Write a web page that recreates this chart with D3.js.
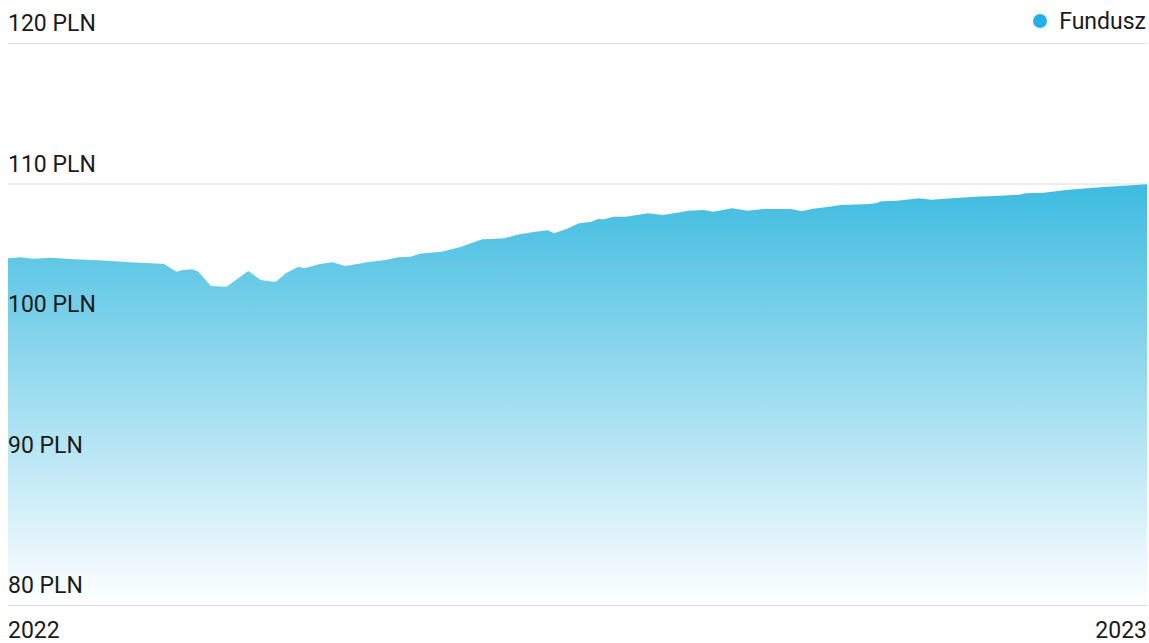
<!DOCTYPE html>
<html>
<head>
<meta charset="utf-8">
<script src="https://cdn.jsdelivr.net/npm/d3@7"></script>
<style>
  html, body { margin: 0; padding: 0; background: #fff; }
  svg { display: block; }
  text { font-family: Roboto, "Noto Sans", sans-serif; fill: #1a1a1a; }
</style>
</head>
<body>
<svg id="chart" width="1149" height="643"></svg>
<script>
// Day offsets from 2022-01-01 and fund unit values (PLN)
const days = [0, 4, 8, 14, 21, 29, 39, 49, 50, 54, 56, 59, 61, 65, 70, 77, 81, 85, 86, 89,
  93, 95, 100, 104, 108, 112, 115, 121, 125, 129, 132, 135, 139, 145, 152, 155, 159, 164, 169, 173,
  175, 179, 183, 187, 189, 191, 194, 198, 205, 210, 218, 223, 226, 232, 237, 242, 251, 254, 255, 258,
  262, 267, 276, 278, 280, 285, 292, 296, 300, 310, 318, 324, 326, 332, 339, 350, 365];
const values = [104.68, 104.75, 104.65, 104.72, 104.60, 104.53, 104.39, 104.29, 104.27, 103.72,
  103.84, 103.89, 103.72, 102.70, 102.65, 103.77, 103.13, 103.01, 103.03, 103.61,
  104.08, 103.96, 104.27, 104.39, 104.13, 104.27, 104.39, 104.56, 104.75, 104.79,
  105.00, 105.07, 105.15, 105.48, 106.03, 106.05, 106.10, 106.38, 106.57, 106.67,
  106.46, 106.76, 107.17, 107.28, 107.47, 107.45, 107.64, 107.64, 107.88, 107.76,
  108.06, 108.11, 107.99, 108.23, 108.06, 108.19, 108.19, 108.04, 108.06, 108.21,
  108.31, 108.47, 108.54, 108.59, 108.73, 108.78, 108.95, 108.85, 108.92, 109.06,
  109.13, 109.20, 109.30, 109.35, 109.54, 109.73, 109.94];
const yTicks = [80, 90, 100, 110, 120];
const yTickLabels = ["80 PLN", "90 PLN", "100 PLN", "110 PLN", "120 PLN"];
const xTickLabels = ["2022", "2023"];
const seriesName = "Fundusz";

const start = new Date(2022, 0, 1);
const data = days.map((d, i) => ({ date: d3.timeDay.offset(start, d), value: values[i] }));

const svg = d3.select("#chart");
const mLeft = 8, mRight = 1147, mTop = 43, mBottom = 605;

const x = d3.scaleTime()
  .domain([start, new Date(2023, 0, 1)])
  .range([mLeft, mRight]);
const y = d3.scaleLinear().domain([80, 120]).range([mBottom, mTop]);

const defs = svg.append("defs");
const grad = defs.append("linearGradient")
  .attr("id", "fillGrad")
  .attr("gradientUnits", "userSpaceOnUse")
  .attr("x1", 0).attr("x2", 0)
  .attr("y1", y(110)).attr("y2", y(80));
grad.append("stop").attr("offset", 0).attr("stop-color", "#3dbbe0");
grad.append("stop").attr("offset", 1).attr("stop-color", "#ffffff");

// Grid lines (behind area)
const yAxis = d3.axisRight(y).tickValues(yTicks).tickSize(mRight - mLeft).tickFormat("");
const gy = svg.append("g").attr("transform", `translate(${mLeft},0)`).call(yAxis);
gy.select(".domain").remove();
gy.selectAll(".tick line").attr("stroke", "#dcdcdc").attr("stroke-width", 1.2);

// Area
const area = d3.area()
  .x(d => x(d.date))
  .y0(y(80))
  .y1(d => y(d.value))
  .curve(d3.curveLinear);
svg.append("path")
  .datum(data)
  .attr("d", area)
  .attr("fill", "url(#fillGrad)");

// Y labels
svg.append("g").selectAll("text")
  .data(yTicks)
  .join("text")
  .attr("x", mLeft)
  .attr("y", d => y(d) - 12)
  .attr("font-size", 23)
  .text((d, i) => yTickLabels[i]);

// X labels
svg.append("text")
  .attr("x", x(start)).attr("y", 638)
  .attr("font-size", 23)
  .text(xTickLabels[0]);
svg.append("text")
  .attr("x", x(new Date(2023, 0, 1))).attr("y", 638)
  .attr("text-anchor", "end")
  .attr("font-size", 23)
  .text(xTickLabels[1]);

// Legend
svg.append("circle").attr("cx", 1040).attr("cy", 21).attr("r", 7).attr("fill", "#22b0e6");
svg.append("text").attr("x", 1146).attr("y", 29).attr("text-anchor", "end")
  .attr("font-size", 23).text(seriesName);
</script>
</body>
</html>
